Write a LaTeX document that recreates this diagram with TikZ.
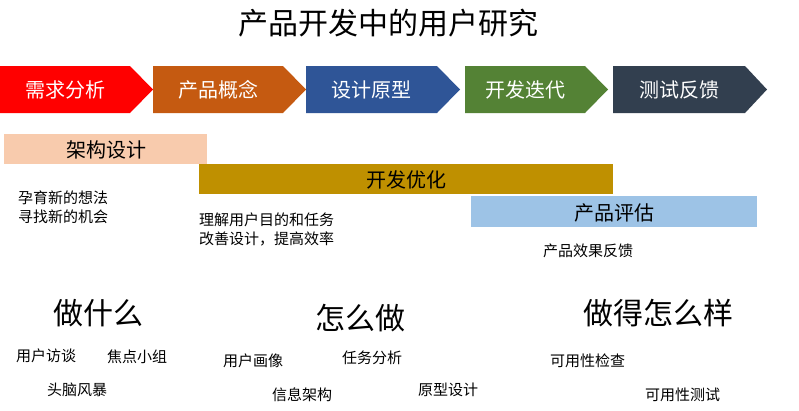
\documentclass[tikz,border=0pt]{standalone}
\usepackage{fontspec}
\setmainfont{Noto Sans CJK SC}
\begin{document}
\begin{tikzpicture}[x=1pt,y=-1pt,
  stagetxt/.style={text=white,font=\fontsize{20}{23}\selectfont,inner sep=0pt},
  bartxt/.style={text=black,font=\fontsize{20}{24}\selectfont,inner sep=0pt},
  smalltxt/.style={text=black,font=\fontsize{15}{19}\selectfont,inner sep=0pt,anchor=west,align=left},
  headtxt/.style={text=black,font=\fontsize{30}{34}\selectfont,inner sep=0pt,anchor=west}]
\definecolor{cRed}{HTML}{FF0000}
\definecolor{cOrange}{HTML}{C55A11}
\definecolor{cBlue}{HTML}{2F5597}
\definecolor{cGreen}{HTML}{548235}
\definecolor{cDark}{HTML}{323F4F}
\definecolor{cPeach}{HTML}{F8CBAD}
\definecolor{cGold}{HTML}{BF9000}
\definecolor{cLight}{HTML}{9DC3E6}
\useasboundingbox (0,0) rectangle (799,410);
\fill[white] (0,0) rectangle (799,410);
% title
\node[text=black,font=\fontsize{30}{34}\selectfont,inner sep=0pt] (title) at (388,23) {产品开发中的用户研究};
% stage arrows
\newcommand{\stagearrow}[6]{%
  \fill[#4] (#1,66) -- (#2,66) -- (#3,89.5) -- (#2,113) -- (#1,113) -- cycle;
  \node[stagetxt] (#5) at ({(#1+#2)/2},89.5) {#6};}
\stagearrow{0}{130}{153}{cRed}{s1}{需求分析}
\stagearrow{153}{283}{306}{cOrange}{s2}{产品概念}
\stagearrow{306}{437}{460}{cBlue}{s3}{设计原型}
\stagearrow{465}{585}{608}{cGreen}{s4}{开发迭代}
\stagearrow{613}{745}{767}{cDark}{s5}{测试反馈}
% bars
\fill[cPeach] (4,134) rectangle (207,164);
\node[bartxt] (b1) at (106,150) {架构设计};
\fill[cGold] (199,164) rectangle (613,194);
\node[bartxt] (b2) at (406,180) {开发优化};
\fill[cLight] (471,196) rectangle (757,227);
\node[bartxt] (b3) at (614,213) {产品评估};
% descriptions
\node[smalltxt] (d1) at (18,207.5) {孕育新的想法\\寻找新的机会};
\node[smalltxt] (d2) at (199,229) {理解用户目的和任务\\改善设计，提高效率};
\node[smalltxt] (d3) at (543,251) {产品效果反馈};
% headers
\node[headtxt] (h1) at (53,313) {做什么};
\node[headtxt] (h2) at (315,318) {怎么做};
\node[headtxt] (h3) at (583,313) {做得怎么样};
% methods
\node[smalltxt] (m1) at (16,356) {用户访谈};
\node[smalltxt] (m2) at (107,357) {焦点小组};
\node[smalltxt] (m3) at (47,390) {头脑风暴};
\node[smalltxt] (m4) at (223,361) {用户画像};
\node[smalltxt] (m5) at (272,395) {信息架构};
\node[smalltxt] (m6) at (342,358) {任务分析};
\node[smalltxt] (m7) at (418,390) {原型设计};
\node[smalltxt] (m8) at (550,361) {可用性检查};
\node[smalltxt] (m9) at (645,395) {可用性测试};
\end{tikzpicture}
\end{document}
